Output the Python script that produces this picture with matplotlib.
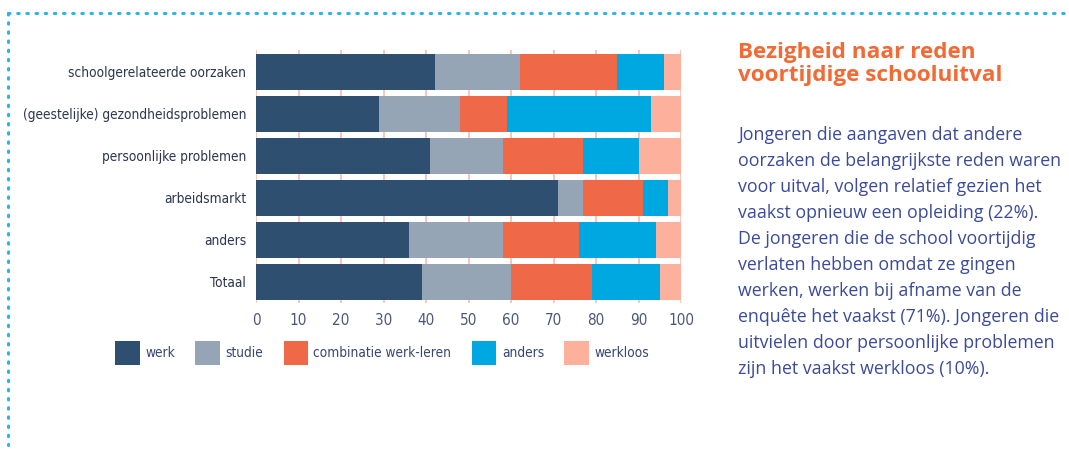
import numpy as np
import matplotlib.pyplot as plt
from matplotlib.patches import Patch
from matplotlib.lines import Line2D
from matplotlib import font_manager as fm

# Data (percent per reason for leaving school)
categories = ["schoolgerelateerde oorzaken", "(geestelijke) gezondheidsproblemen",
              "persoonlijke problemen", "arbeidsmarkt", "anders", "Totaal"]
series = ["werk", "studie", "combinatie werk-leren", "anders", "werkloos"]
werk = [42, 29, 41, 71, 36, 39]
studie = [20, 19, 17, 6, 22, 21]
combinatie = [23, 11, 19, 14, 18, 19]
anders = [11, 34, 13, 6, 18, 16]
werkloos = [4, 7, 10, 3, 6, 5]
values = [werk, studie, combinatie, anders, werkloos]
colors = ["#2e4f70", "#95a5b5", "#ef6848", "#00a8e2", "#fdb09b"]
xticks = list(range(0, 101, 10))

title = "Bezigheid naar reden\nvoortijdige schooluitval"
body = ("Jongeren die aangaven dat andere\n"
        "oorzaken de belangrijkste reden waren\n"
        "voor uitval, volgen relatief gezien het\n"
        "vaakst opnieuw een opleiding (22%).\n"
        "De jongeren die de school voortijdig\n"
        "verlaten hebben omdat ze gingen\n"
        "werken, werken bij afname van de\n"
        "enquête het vaakst (71%). Jongeren die\n"
        "uitvielen door persoonlijke problemen\n"
        "zijn het vaakst werkloos (10%).")

# condensed face for the chart labels
ylab_font = fm.FontProperties(family="DejaVu Sans", stretch="condensed", size=9.8)
xlab_font = fm.FontProperties(family="DejaVu Sans", stretch="condensed", size=11)
leg_font = fm.FontProperties(family="DejaVu Sans", stretch="condensed", size=9.8)

fig = plt.figure(figsize=(10.69, 4.51), dpi=100)
ax = fig.add_axes([256 / 1069, 148 / 451, 425 / 1069, 253 / 451])

y = np.arange(len(categories))
left = np.zeros(len(categories))
for vals, col, name in zip(values, colors, series):
    ax.barh(y, vals, left=left, height=0.86, color=col, label=name, zorder=2)
    left += np.array(vals)

ax.set_xlim(0, 100)
ax.set_ylim(5.5, -0.52)
ax.set_xticks(xticks)
ax.set_yticks(y)
ax.set_yticklabels(categories, fontproperties=ylab_font, color="#2b3650")
for lbl in ax.get_xticklabels():
    lbl.set_fontproperties(xlab_font)
    lbl.set_color("#4a5878")
ax.tick_params(axis="x", length=0, pad=7)
ax.tick_params(axis="y", length=0, pad=7)
for s in ax.spines.values():
    s.set_visible(False)
ax.grid(axis="x", color="#f9c6b6", linewidth=1.4, zorder=0)
ax.set_axisbelow(True)

handles = [Patch(facecolor=c, edgecolor="none") for c in colors]
leg = ax.legend(handles, series, loc="center", bbox_to_anchor=(0.297, -0.198),
                ncol=5, frameon=False, handlelength=1.8, handleheight=2.3,
                handletextpad=0.4, columnspacing=1.5, prop=leg_font)
for t in leg.get_texts():
    t.set_color("#3a4670")

fig.text(738 / 1069, 1 - 42 / 451, title, ha="left", va="top", fontsize=16.2,
         fontweight="bold", family="Open Sans", color="#f26a35", linespacing=1.12)
fig.text(738 / 1069, 1 - 126 / 451, body, ha="left", va="top", fontsize=12.8,
         family="Open Sans", color="#3b4a9a", linespacing=1.57)

# dotted frame
dot = dict(color="#29b5e8", linewidth=2.2, linestyle=(0, (0.5, 2.5)),
           solid_capstyle="round", dash_capstyle="round")
fig.add_artist(Line2D([8 / 1069, 1.0], [1 - 13 / 451] * 2, transform=fig.transFigure, **dot))
fig.add_artist(Line2D([8 / 1069] * 2, [1 - 13 / 451, 1 - 445 / 451], transform=fig.transFigure, **dot))

fig.savefig("out.png", dpi=100)
